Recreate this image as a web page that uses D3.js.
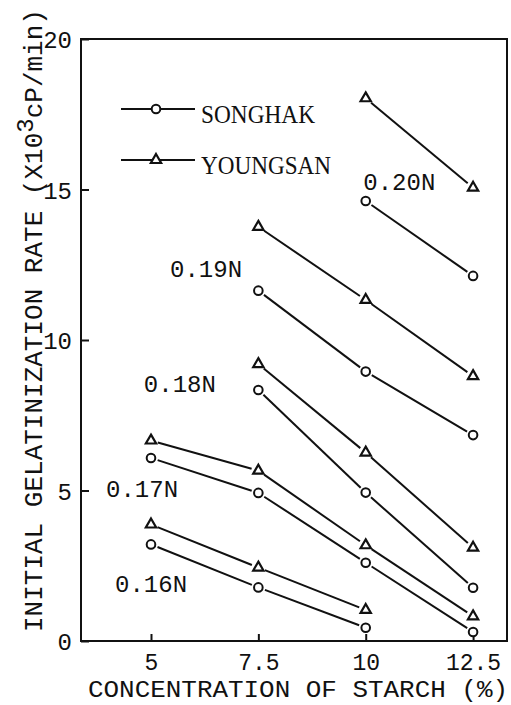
<!DOCTYPE html>
<html>
<head>
<meta charset="utf-8">
<script src="https://cdn.jsdelivr.net/npm/d3@7"></script>
<style>
  html, body { margin: 0; padding: 0; background: #fff; }
  svg { display: block; }
</style>
</head>
<body>
<svg id="chart" width="511" height="705"></svg>
<script>
// ---- data ----
const concentrations = [5, 7.5, 10, 12.5];           // starch %
const xTickLabels = ["5", "7.5", "10", "12.5"];
const yTicks = [0, 5, 10, 15, 20];
const normalities = ["0.16N", "0.17N", "0.18N", "0.19N", "0.20N"];

// SONGHAK (circles), values per concentration, null = not measured
const songhak016 = [3.21, 1.78, 0.44, null];
const songhak017 = [6.08, 4.92, 2.60, 0.30];
const songhak018 = [null, 8.34, 4.93, 1.77];
const songhak019 = [null, 11.64, 8.95, 6.84];
const songhak020 = [null, null, 14.62, 12.13];

// YOUNGSAN (triangles)
const youngsan016 = [3.87, 2.44, 1.03, null];
const youngsan017 = [6.66, 5.66, 3.18, 0.82];
const youngsan018 = [null, 9.20, 6.26, 3.10];
const youngsan019 = [null, 13.76, 11.33, 8.80];
const youngsan020 = [null, null, 18.03, 15.06];

const songhakSeries = [songhak016, songhak017, songhak018, songhak019, songhak020];
const youngsanSeries = [youngsan016, youngsan017, youngsan018, youngsan019, youngsan020];

// label anchors in data units (x = starch %, y = rate)
const labelX = [4.21, 4.00, 4.88, 5.49, 9.99];
const labelY = [1.63, 4.78, 8.27, 12.09, 14.98];

// ---- layout ----
const svg = d3.select("#chart");
const pLeft = 81, pRight = 507, pTop = 39, pBottom = 641;
const x = d3.scaleLinear().domain([3.37, 13.29]).range([pLeft, pRight]);
const y = d3.scaleLinear().domain([0, 20]).range([pBottom, pTop]);
const monoFont = "'Liberation Mono', 'DejaVu Sans Mono', monospace";
const ink = "#111";

svg.append("rect").attr("width", 511).attr("height", 705).attr("fill", "#fff");

// frame
svg.append("rect")
  .attr("x", pLeft).attr("y", pTop)
  .attr("width", pRight - pLeft).attr("height", pBottom - pTop)
  .attr("fill", "none").attr("stroke", ink).attr("stroke-width", 2);

// y axis (inward ticks)
const yAxis = d3.axisLeft(y).tickValues(yTicks).tickFormat(d3.format("d"))
  .tickSizeInner(-8).tickSizeOuter(0).tickPadding(9);
const gy = svg.append("g").attr("transform", `translate(${pLeft},0)`).call(yAxis);
gy.select(".domain").remove();
gy.selectAll(".tick line").attr("stroke", ink).attr("stroke-width", 2);
gy.selectAll(".tick text").attr("font-family", monoFont).attr("font-size", 24)
  .attr("fill", ink).attr("dy", "0.36em");

// x axis (inward ticks)
const xAxis = d3.axisBottom(x).tickValues(concentrations)
  .tickFormat((d, i) => xTickLabels[i])
  .tickSizeInner(-7).tickSizeOuter(0).tickPadding(13);
const gx = svg.append("g").attr("transform", `translate(0,${pBottom})`).call(xAxis);
gx.select(".domain").remove();
gx.selectAll(".tick line").attr("stroke", ink).attr("stroke-width", 2);
gx.selectAll(".tick text").attr("font-family", monoFont).attr("font-size", 23)
  .attr("fill", ink);

// axis titles
svg.append("text")
  .attr("x", 88).attr("y", 697)
  .attr("font-family", monoFont).attr("font-size", 24).attr("fill", ink)
  .attr("textLength", 420).attr("lengthAdjust", "spacingAndGlyphs")
  .text("CONCENTRATION OF STARCH (%)");

const yt = svg.append("text")
  .attr("transform", "translate(42,632) rotate(-90)")
  .attr("font-family", monoFont).attr("font-size", 26).attr("fill", ink);
yt.append("tspan").text("INITIAL GELATINIZATION RATE (X10");
yt.append("tspan").attr("dy", -9).attr("font-size", 24).text("3");
yt.append("tspan").attr("dy", 9).text("cP/min)");

// ---- series ----
const gap = 7;
function seriesPoints(vals) {
  return concentrations.map((c, i) => vals[i] == null ? null : [x(c), y(vals[i])])
    .filter(p => p !== null);
}
function drawSegments(pts) {
  for (let i = 0; i < pts.length - 1; i++) {
    const [x1, y1] = pts[i], [x2, y2] = pts[i + 1];
    const dx = x2 - x1, dy = y2 - y1, L = Math.hypot(dx, dy);
    const ux = dx / L, uy = dy / L;
    svg.append("line")
      .attr("x1", x1 + ux * gap).attr("y1", y1 + uy * gap)
      .attr("x2", x2 - ux * gap).attr("y2", y2 - uy * gap)
      .attr("stroke", ink).attr("stroke-width", 2);
  }
}
const triangle = d3.symbol().type(d3.symbolTriangle).size(46);
function drawCircle(px, py) {
  svg.append("circle").attr("cx", px).attr("cy", py).attr("r", 4.3)
    .attr("fill", "#fff").attr("stroke", ink).attr("stroke-width", 2);
}
function drawTriangle(px, py) {
  svg.append("path").attr("d", triangle())
    .attr("transform", `translate(${px},${py})`)
    .attr("fill", "#fff").attr("stroke", ink).attr("stroke-width", 2.2)
    .attr("stroke-linejoin", "miter");
}

songhakSeries.forEach(vals => {
  const pts = seriesPoints(vals);
  drawSegments(pts);
  pts.forEach(p => drawCircle(p[0], p[1]));
});
youngsanSeries.forEach(vals => {
  const pts = seriesPoints(vals);
  drawSegments(pts);
  pts.forEach(p => drawTriangle(p[0], p[1]));
});

// normality labels
normalities.forEach((n, i) => {
  svg.append("text")
    .attr("x", x(labelX[i]) - 2).attr("y", y(labelY[i]))
    .attr("font-family", monoFont).attr("font-size", 24).attr("fill", ink)
    .text(n);
});

// ---- legend ----
const legendItems = ["SONGHAK", "YOUNGSAN"];
const legendWidths = [114, 130];
legendItems.forEach((name, i) => {
  const ly = 109 + i * 51;
  svg.append("line").attr("x1", 121).attr("x2", 195).attr("y1", ly).attr("y2", ly)
    .attr("stroke", ink).attr("stroke-width", 2);
  if (i === 0) drawCircle(156, ly); else drawTriangle(156, ly);
  svg.append("text")
    .attr("x", 201).attr("y", ly + 14)
    .attr("font-family", "'Liberation Serif', 'DejaVu Serif', serif")
    .attr("font-size", 26).attr("fill", ink)
    .attr("textLength", legendWidths[i]).attr("lengthAdjust", "spacingAndGlyphs")
    .text(name);
});
</script>
</body>
</html>
